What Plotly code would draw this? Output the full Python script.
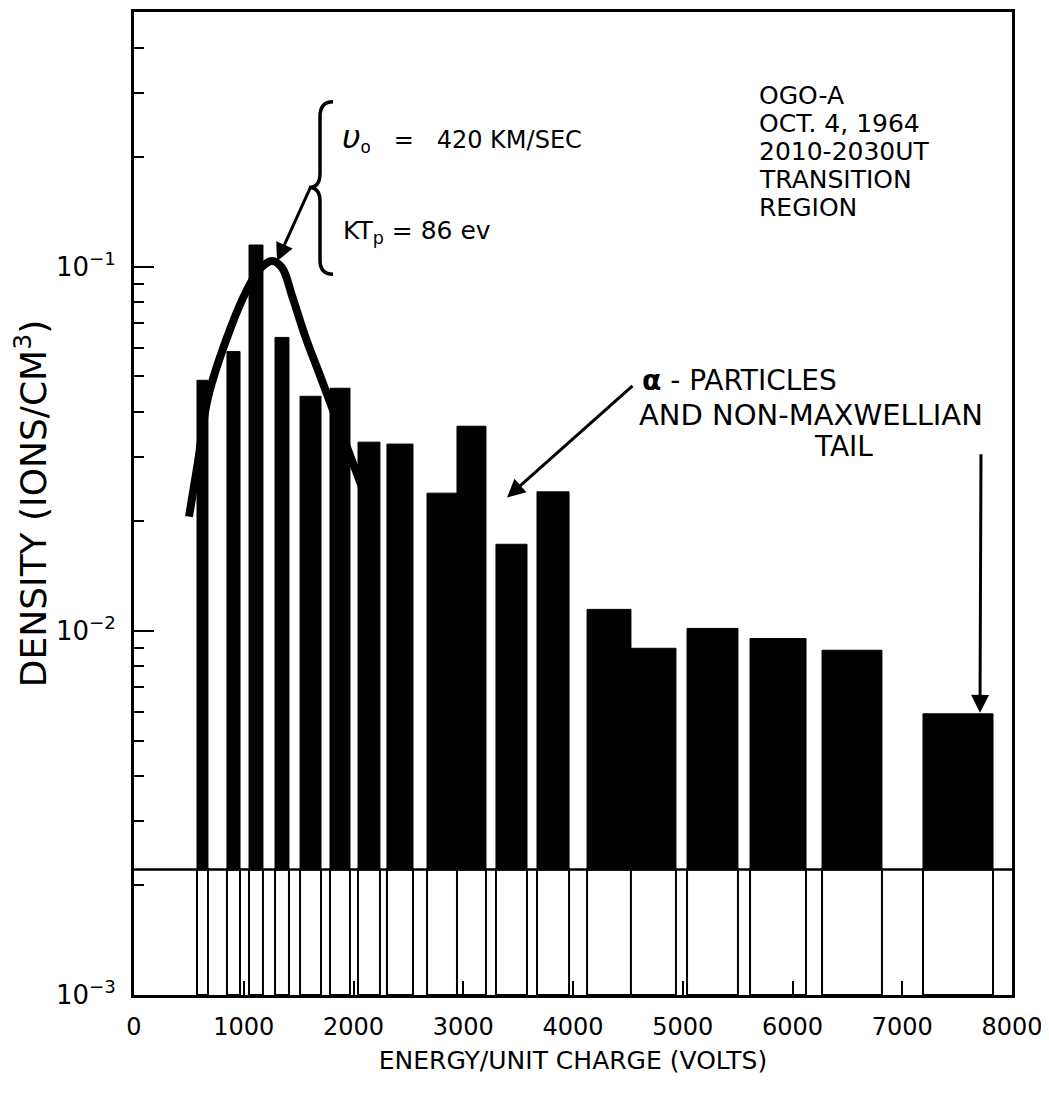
import plotly.graph_objects as go

# ---- data ----
bin_left = [574, 847, 1048, 1285, 1513, 1786, 2041, 2305, 2670, 2943,
            3298, 3672, 4128, 4528, 5039, 5613, 6269, 7189]
bin_right = [674, 966, 1175, 1412, 1704, 1968, 2241, 2542, 2943, 3207,
             3581, 3964, 4528, 4938, 5503, 6123, 6815, 7827]
density = [0.0488, 0.0585, 0.1148, 0.0640, 0.0441, 0.0464, 0.0330, 0.0326,
           0.0239, 0.0365, 0.0173, 0.0241, 0.01146, 0.00896, 0.01016,
           0.00953, 0.00885, 0.00592]
baseline = 0.00221
floor_val = 0.001

fit_energy = [501, 583, 674, 875, 1030, 1148, 1257, 1349, 1440, 1558,
              1695, 1831, 1968, 2105]
fit_density = [0.0206, 0.0291, 0.0438, 0.0673, 0.0865, 0.0988, 0.1038,
               0.0994, 0.0833, 0.0647, 0.0503, 0.0391, 0.0304, 0.0236]

x_ticks = [0, 1000, 2000, 3000, 4000, 5000, 6000, 7000, 8000]
y_ticks = [0.001, 0.01, 0.1]
y_ticktext = ["10<sup>−3</sup>", "10<sup>−2</sup>", "10<sup>−1</sup>"]
y_minor = [m * 10 ** e for e in (-3, -2, -1) for m in range(2, 10) if m * 10 ** e < 0.55]

centers = [(a + b) / 2 for a, b in zip(bin_left, bin_right)]
widths = [b - a for a, b in zip(bin_left, bin_right)]

# ---- layout geometry (page pixels; page body has an 8px margin) ----
OFF = 8
W, H = 1041, 1086
PL, PR, PT, PB = 134, 1012, 9, 995          # plot area on the page
L, T = PL - OFF, PT - OFF
R, B = (OFF + W) - PR, (OFF + H) - PB
PW, PH = PR - PL, PB - PT


def px(xp):
    return (xp - PL) / PW


def py(yp):
    return (PB - yp) / PH


FONT = "DejaVu Sans"

fig = go.Figure()

# lower (open) part of bars down to the axis
fig.add_trace(go.Bar(
    x=centers, width=widths, base=[floor_val] * len(centers),
    y=[baseline - floor_val] * len(centers),
    marker=dict(color="white", line=dict(color="black", width=2)),
    hoverinfo="skip"))
# filled bars above the baseline
fig.add_trace(go.Bar(
    x=centers, width=widths, base=[baseline] * len(centers),
    y=[d - baseline for d in density],
    marker=dict(color="black", line=dict(color="black", width=1)),
    hoverinfo="skip"))
# baseline
fig.add_trace(go.Scatter(
    x=[0, 8000], y=[baseline, baseline], mode="lines",
    line=dict(color="black", width=2.5), hoverinfo="skip"))
# Maxwellian fit
fig.add_trace(go.Scatter(
    x=fit_energy, y=fit_density, mode="lines",
    line=dict(color="black", width=8, shape="spline", smoothing=1.0),
    hoverinfo="skip"))

# brace
bx = 320
brace = (f"M {px(bx+13)},{py(99)} Q {px(bx)},{py(99)} {px(bx)},{py(114)} "
         f"L {px(bx)},{py(171)} Q {px(bx)},{py(185)} {px(bx-11)},{py(185)} "
         f"Q {px(bx)},{py(185)} {px(bx)},{py(199)} "
         f"L {px(bx)},{py(258)} Q {px(bx)},{py(272)} {px(bx+13)},{py(272)}")
fig.add_shape(type="path", path=brace, xref="paper", yref="paper",
              line=dict(color="black", width=3.5))

ann = []


def text(xp, yp, s, size, xanchor="left"):
    ann.append(dict(x=px(xp), y=py(yp), xref="paper", yref="paper", text=s,
                    showarrow=False, xanchor=xanchor, yanchor="middle",
                    font=dict(family=FONT, size=size, color="black")))


def arrow(x_tip, y_tip, x_tail, y_tail):
    ann.append(dict(x=px(x_tip), y=py(y_tip), xref="paper", yref="paper",
                    ax=x_tail - x_tip, ay=y_tail - y_tip, text="",
                    showarrow=True, arrowhead=2, arrowsize=1.2,
                    arrowwidth=3, arrowcolor="black"))


text(340, 135, "<span style='font-size:32px'><i>υ</i></span><sub>o</sub>"
     "&nbsp;&nbsp;&nbsp;=&nbsp;&nbsp;&nbsp;420 KM/SEC", 24)
text(341, 230, "KT<sub>p</sub> = 86 ev", 25)

for i, line in enumerate(["OGO-A", "OCT. 4, 1964", "2010-2030UT", "TRANSITION", "REGION"]):
    text(757, 93 + 28 * i, line, 25)

text(640, 379, "<b>α</b> - PARTICLES", 28)
text(637, 413, "AND NON-MAXWELLIAN", 29)
text(843, 445, "TAIL", 28, xanchor="center")

arrow(277, 259, 311, 184)
arrow(507, 496, 634, 383)
arrow(980, 712, 981, 452)

fig.update_layout(
    width=W, height=H,
    margin=dict(l=L, r=R, t=T, b=B),
    paper_bgcolor="white", plot_bgcolor="white",
    showlegend=False, barmode="overlay",
    annotations=ann,
    font=dict(family=FONT, color="black"),
    xaxis=dict(range=[0, 8000], tickvals=x_ticks, ticks="inside",
               ticklen=14, tickwidth=2, tickcolor="black",
               showline=True, linewidth=3, linecolor="black", mirror=True,
               showgrid=False, zeroline=False, ticklabelstandoff=8,
               tickfont=dict(family=FONT, size=24),
               title=dict(text="ENERGY/UNIT CHARGE (VOLTS)",
                          font=dict(family=FONT, size=25), standoff=12)),
    yaxis=dict(type="log", range=[-3, -0.3], tickvals=y_ticks,
               ticktext=y_ticktext, ticks="inside", ticklen=20,
               tickwidth=2, tickcolor="black",
               minor=dict(tickvals=y_minor, ticks="inside", ticklen=10,
                          tickwidth=2, tickcolor="black"),
               showline=True, linewidth=3, linecolor="black", mirror=True,
               showgrid=False, zeroline=False, ticklabelstandoff=10,
               tickfont=dict(family=FONT, size=26),
               title=dict(text="DENSITY (IONS/CM<sup>3</sup>)",
                          font=dict(family=FONT, size=36), standoff=12)),
)

fig.write_html("out.html")
